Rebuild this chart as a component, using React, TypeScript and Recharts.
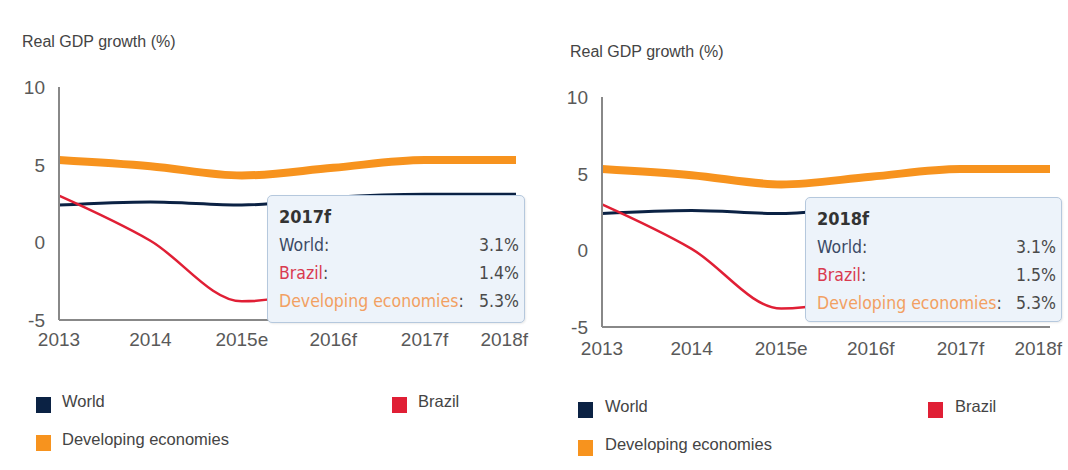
import React from "react";
import { LineChart, Line, XAxis, YAxis, Tooltip } from "recharts";

// Real GDP growth (%), World Bank style comparison
const years = ["2013", "2014", "2015e", "2016f", "2017f", "2018f"];
const worldGrowth = [2.4, 2.6, 2.4, 2.9, 3.1, 3.1];
const brazilGrowth = [3.0, 0.1, -3.8, -2.5, 1.4, 1.5];
const developingGrowth = [5.3, 4.9, 4.3, 4.8, 5.3, 5.3];
const yTicks = [-5, 0, 5, 10];

const chartData = years.map((year, i) => ({
  year,
  world: worldGrowth[i],
  brazil: brazilGrowth[i],
  developing: developingGrowth[i],
}));

interface SeriesDef {
  key: string;
  name: string;
  color: string;
  labelColor: string;
  width: number;
}

const WORLD: SeriesDef = { key: "world", name: "World", color: "#0B2244", labelColor: "#3B4A66", width: 3 };
const BRAZIL: SeriesDef = { key: "brazil", name: "Brazil", color: "#E01F35", labelColor: "#D93A4F", width: 2.5 };
const DEVELOPING: SeriesDef = {
  key: "developing",
  name: "Developing economies",
  color: "#F7931E",
  labelColor: "#F2A062",
  width: 8,
};

// drawn bottom to top
const drawOrder = [DEVELOPING, WORLD, BRAZIL];
const tooltipOrder = [WORLD, BRAZIL, DEVELOPING];

const AXIS_FONT = '"Liberation Sans", Arial, sans-serif';
const TIP_FONT = '"DejaVu Sans Condensed", "DejaVu Sans", Tahoma, sans-serif';

interface PanelConfig {
  left: number;
  top: number;
  width: number;
  height: number;
  margin: { top: number; right: number; bottom: number; left: number };
  xAxisHeight: number;
  labelOffset: number;
  tooltipIndex: number;
  tooltipPos: { x: number; y: number };
  tooltipSize: { w: number; h: number };
  title: { x: number; y: number };
  legend: { x: number; y: number; col2: number; textGap: number };
}

const panels: PanelConfig[] = [
  {
    left: 0,
    top: 70,
    width: 540,
    height: 300,
    margin: { top: 17, right: 24, bottom: 20, left: 14 },
    xAxisHeight: 30,
    labelOffset: 26,
    tooltipIndex: 4,
    tooltipPos: { x: 267, y: 125 },
    tooltipSize: { w: 258, h: 128 },
    title: { x: 22, y: 34 },
    legend: { x: 36, y: 397, col2: 356, textGap: 26 },
  },
  {
    left: 543,
    top: 80,
    width: 525,
    height: 300,
    margin: { top: 17, right: 18, bottom: 20, left: 14 },
    xAxisHeight: 33,
    labelOffset: 28,
    tooltipIndex: 5,
    tooltipPos: { x: 262, y: 117 },
    tooltipSize: { w: 257, h: 125 },
    title: { x: 570, y: 44 },
    legend: { x: 578, y: 402, col2: 350, textGap: 27 },
  },
];

const XTick = (props: any) => {
  const { x, y, payload, index, visibleTicksCount, offsetY } = props;
  const last = index === visibleTicksCount - 1;
  return (
    <text
      x={last ? x + 12 : x}
      y={y + offsetY}
      textAnchor={last ? "end" : "middle"}
      fontSize={19}
      fontFamily={AXIS_FONT}
      fill="#595959"
    >
      {payload.value}
    </text>
  );
};

const YTick = (props: any) => {
  const { x, y, payload } = props;
  return (
    <text x={x} y={y} dy="0.36em" textAnchor="end" fontSize={19} fontFamily={AXIS_FONT} fill="#595959">
      {payload.value}
    </text>
  );
};

const GrowthTooltip = ({ active, payload, label, w, h }: any) => {
  if (!active || !payload || !payload.length) return null;
  const values: Record<string, number> = {};
  payload.forEach((p: any) => {
    values[p.dataKey] = p.value;
  });
  return (
    <div
      style={{
        width: w,
        height: h,
        boxSizing: "border-box",
        background: "#EDF3FA",
        border: "1px solid #B5C8DD",
        borderRadius: 5,
        padding: "7px 5px 0 11px",
        fontFamily: TIP_FONT,
        fontSize: 17.5,
        lineHeight: "28px",
        color: "#4A4A4A",
        boxShadow: "1px 1px 2px rgba(0,0,0,0.08)",
      }}
    >
      <div style={{ fontWeight: 700, color: "#333", fontSize: 18 }}>{label}</div>
      {tooltipOrder.map((s) => (
        <div key={s.key} style={{ display: "flex", justifyContent: "space-between" }}>
          <span>
            <span style={{ color: s.labelColor }}>{s.name}</span>:
          </span>
          <span>{values[s.key] !== undefined ? `${values[s.key].toFixed(1)}%` : ""}</span>
        </div>
      ))}
    </div>
  );
};

const LegendItem = ({ x, y, gap, s }: { x: number; y: number; gap: number; s: SeriesDef }) => (
  <>
    <div style={{ position: "absolute", left: x, top: y, width: 15, height: 16, background: s.color }} />
    <div
      style={{
        position: "absolute",
        left: x + gap,
        top: y - 5,
        fontFamily: AXIS_FONT,
        fontSize: 16.5,
        lineHeight: "18px",
        color: "#444",
        whiteSpace: "nowrap",
      }}
    >
      {s.name}
    </div>
  </>
);

const GrowthPanel = ({ cfg }: { cfg: PanelConfig }) => (
  <>
    <div
      style={{
        position: "absolute",
        left: cfg.title.x,
        top: cfg.title.y,
        fontFamily: AXIS_FONT,
        fontSize: 16,
        lineHeight: "16px",
        color: "#444",
        whiteSpace: "nowrap",
      }}
    >
      Real GDP growth (%)
    </div>
    <div style={{ position: "absolute", left: cfg.left, top: cfg.top }}>
      <LineChart width={cfg.width} height={cfg.height} data={chartData} margin={cfg.margin}>
        <XAxis
          dataKey="year"
          height={cfg.xAxisHeight}
          tickSize={0}
          tickMargin={0}
          tickLine={false}
          axisLine={{ stroke: "#888", strokeWidth: 2 }}
          interval={0}
          tick={(p: any) => <XTick {...p} offsetY={cfg.labelOffset} />}
        />
        <YAxis
          width={45}
          domain={[-5, 10]}
          ticks={yTicks}
          type="number"
          tickSize={0}
          tickMargin={14}
          tickLine={false}
          axisLine={{ stroke: "#888", strokeWidth: 2 }}
          tick={(p: any) => <YTick {...p} />}
        />
        {drawOrder.map((s) => (
          <Line
            key={s.key}
            type="monotone"
            dataKey={s.key}
            name={s.name}
            stroke={s.color}
            strokeWidth={s.width}
            dot={false}
            activeDot={false}
            isAnimationActive={false}
          />
        ))}
        <Tooltip
          active
          defaultIndex={cfg.tooltipIndex}
          cursor={false}
          isAnimationActive={false}
          position={cfg.tooltipPos}
          allowEscapeViewBox={{ x: true, y: true }}
          wrapperStyle={{ outline: "none", zIndex: 5 }}
          content={(p: any) => <GrowthTooltip {...p} w={cfg.tooltipSize.w} h={cfg.tooltipSize.h} />}
        />
      </LineChart>
    </div>
    <LegendItem x={cfg.legend.x} y={cfg.legend.y} gap={cfg.legend.textGap} s={WORLD} />
    <LegendItem x={cfg.legend.x + cfg.legend.col2} y={cfg.legend.y} gap={cfg.legend.textGap} s={BRAZIL} />
    <LegendItem x={cfg.legend.x} y={cfg.legend.y + 38} gap={cfg.legend.textGap} s={DEVELOPING} />
  </>
);

export default function App() {
  return (
    <div
      style={{
        position: "absolute",
        left: 0,
        top: 0,
        width: 1068,
        height: 470,
        background: "#fff",
        overflow: "hidden",
      }}
    >
      {panels.map((cfg, i) => (
        <GrowthPanel key={i} cfg={cfg} />
      ))}
    </div>
  );
}
